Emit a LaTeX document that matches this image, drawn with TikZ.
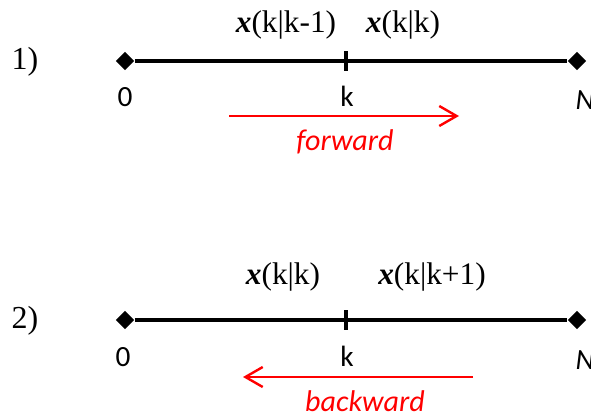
\documentclass[tikz,border=0pt]{standalone}
\usepackage{fontspec}
\setmainfont{Liberation Serif}
\newfontfamily\calibri{Carlito}
\usetikzlibrary{arrows.meta,positioning,shapes.geometric}
\newcommand{\vx}{\textbf{\textit{x}}}

\begin{document}
\begin{tikzpicture}[x=0.75pt,y=-0.75pt,>={Straight Barb[length=13pt,width=15pt]},
  eje/.style={line width=3.6pt},
  extremo/.style={diamond,fill=black,inner sep=0pt,minimum size=14pt},
  marca/.style={line width=3.5pt},
  fila/.style={font=\fontsize{24}{28}\selectfont},
  estado/.style={font=\fontsize{23.5}{28}\selectfont},
  etiq/.style={font=\calibri\fontsize{22}{26}\selectfont},
  sentido/.style={draw=red,line width=1.8pt,->},
  nombre/.style={text=red,font=\calibri\itshape\fontsize{22.5}{26}\selectfont}]
\useasboundingbox (0,0) rectangle (591,414);
% 1) filtrado hacia delante
\node[fila] (f1) at (25,62) {1)};
\node[extremo] (ini1) at (125,61) {};
\node[extremo] (fin1) at (577,61) {};
\coordinate (k1) at (346,61);
\draw[eje] (ini1)--(fin1);
\draw[marca] ([yshift=7.5pt]k1)--([yshift=-7.5pt]k1);
\node[estado] (pred1) at (286,25) {\vx(k|k-1)};
\node[estado] (filt1) at (403,25) {\vx(k|k)};
\node[etiq] (cero1) at (125,97) {0};
\node[etiq] (ka1) at (347,96) {k};
\node[etiq,font=\calibri\itshape\fontsize{22}{26}\selectfont] (ene1) at (585,100) {N};
\coordinate (fa) at (229,116);
\coordinate (fb) at (459,116);
\draw[sentido] (fa)--(fb);
\node[nombre] (adelante) at (345,142) {forward};
% 2) suavizado hacia atras
\node[fila] (f2) at (25,321) {2)};
\node[extremo] (ini2) at (125,320) {};
\node[extremo] (fin2) at (577,320) {};
\coordinate (k2) at (346,320);
\draw[eje] (ini2)--(fin2);
\draw[marca] ([yshift=7.5pt]k2)--([yshift=-7.5pt]k2);
\node[estado] (filt2) at (283,277) {\vx(k|k)};
\node[estado] (suav2) at (432,277) {\vx(k|k+1)};
\node[etiq] (cero2) at (123,357) {0};
\node[etiq] (ka2) at (347,356) {k};
\node[etiq,font=\calibri\itshape\fontsize{22}{26}\selectfont] (ene2) at (585,360) {N};
\coordinate (ba) at (473,377);
\coordinate (bb) at (243,377);
\draw[sentido] (ba)--(bb);
\node[nombre] (atras) at (365,401) {backward};
\end{tikzpicture}
\end{document}
